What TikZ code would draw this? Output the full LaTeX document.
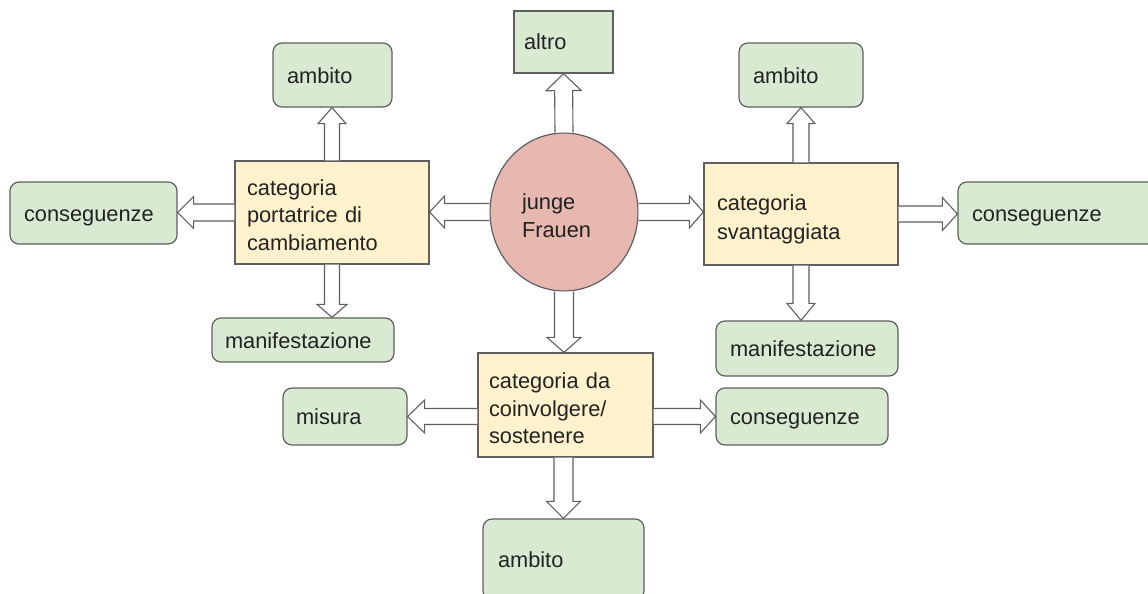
\documentclass[tikz,border=0pt]{standalone}
\usepackage{fontspec}
\setmainfont{Liberation Sans}
\usetikzlibrary{calc,shapes.geometric}

\definecolor{leaf}{HTML}{D9EAD3}
\definecolor{sand}{HTML}{FFF2CC}
\definecolor{rose}{HTML}{E6B8AF}
\definecolor{edge}{HTML}{5F5F5F}
\definecolor{ink}{HTML}{222222}

% fixed line box so every label sits at the same spot in its frame
\newcommand\linestrut{\rule[-6pt]{0pt}{28pt}}

% hollow block arrow: shaft half width, head half width, head length, start, tip
\newcommand\arrowshape[5]{%
  \path (#4) coordinate (ba-s) (#5) coordinate (ba-e);
  \path ($(ba-e)!#3!(ba-s)$) coordinate (ba-h);
  \filldraw[blockedge]
    ($(ba-s)!#1!90:(ba-e)$) -- ($(ba-h)!#1!-90:(ba-s)$) --
    ($(ba-h)!#2!-90:(ba-s)$) -- (ba-e) --
    ($(ba-h)!#2!90:(ba-s)$) -- ($(ba-h)!#1!90:(ba-s)$) --
    ($(ba-s)!#1!-90:(ba-e)$);
}

\tikzset{
  label text/.style={text=ink, align=left, inner ysep=0pt,
    font=\fontsize{21.8}{27.5}\selectfont,
    execute at begin node={\linestrut}, execute at end node={\linestrut}},
  deepfirst/.style={execute at begin node={\rule{0pt}{#1}}},
  leafbox/.style={label text, draw=edge, line width=1.2pt, fill=leaf, rounded corners=9pt},
  plainleaf/.style={label text, draw=edge, line width=1.2pt, fill=leaf},
  sandbox/.style={label text, draw=edge, line width=1.2pt, fill=sand},
  rosecircle/.style={label text, ellipse, draw=edge, line width=1.2pt, fill=rose,
    inner sep=0pt, font=\fontsize{21.8}{28}\selectfont},
  blockedge/.style={draw=edge, fill=white, line width=1.1pt, line join=miter},
}

\begin{document}
\begin{tikzpicture}[x=1pt,y=-1pt]
\useasboundingbox (0,0) rectangle (1148,594);

% centre
\node[rosecircle, deepfirst=28pt, minimum width=148pt, minimum height=158pt, text width=84pt] (jf) at (564,212) {junge\\Frauen};
\node[plainleaf, text width=79pt, inner xsep=10pt, minimum height=62pt] (altro) at (563.5,42) {altro};

% left branch
\node[sandbox, deepfirst=26pt, text width=170pt, inner xsep=12pt, minimum height=103pt] (port) at (332,212.5) {categoria\\portatrice di\\cambiamento};
\node[leafbox, text width=91pt, inner xsep=14pt, minimum height=64pt] (ambL) at (332.5,75) {ambito};
\node[leafbox, text width=139pt, inner xsep=14pt, minimum height=62pt] (conL) at (93.5,213) {conseguenze};
\node[leafbox, text width=156pt, inner xsep=13pt, minimum height=44pt] (manL) at (303,340) {manifestazione};

% right branch
\node[sandbox, deepfirst=28pt, text width=168pt, inner xsep=13pt, minimum height=102pt] (svan) at (801,214) {categoria\\svantaggiata};
\node[leafbox, text width=96pt, inner xsep=14pt, minimum height=64pt] (ambR) at (801,75) {ambito};
\node[leafbox, text width=174pt, inner xsep=14pt, minimum height=62pt] (conR) at (1059,213) {conseguenze};
\node[leafbox, text width=154pt, inner xsep=14pt, minimum height=55pt] (manR) at (807,348.5) {manifestazione};

% lower branch
\node[sandbox, deepfirst=28pt, text width=153pt, inner xsep=11pt, minimum height=104pt] (coin) at (565.5,405) {categoria da\\coinvolgere/\\sostenere};
\node[leafbox, text width=98pt, inner xsep=13pt, minimum height=57pt] (misura) at (345,416.5) {misura};
\node[leafbox, text width=144pt, inner xsep=14pt, minimum height=57pt] (conB) at (802,416.5) {conseguenze};
\node[leafbox, text width=131pt, inner xsep=15pt, minimum height=81pt] (ambB) at (563.5,559.5) {ambito};

% connectors
\arrowshape{7.5pt}{14pt}{16pt}{port.north}{port.north |- ambL.south}
\arrowshape{9pt}{17.5pt}{17pt}{jf.north}{altro.south}
\arrowshape{8pt}{14pt}{16pt}{svan.north}{svan.north |- ambR.south}
\arrowshape{8.5pt}{16pt}{16pt}{port.west}{port.west -| conL.east}
\arrowshape{8.5pt}{16pt}{15pt}{jf.west}{jf.west -| port.east}
\arrowshape{8.5pt}{16pt}{14pt}{jf.east}{jf.east -| svan.west}
\arrowshape{8pt}{16.5pt}{15pt}{svan.east}{svan.east -| conR.west}
\arrowshape{7.5pt}{15pt}{13pt}{port.south}{port.south |- manL.north}
\arrowshape{8pt}{14pt}{17pt}{svan.south}{svan.south |- manR.north}
\arrowshape{9.5pt}{17pt}{15pt}{jf.south}{jf.south |- coin.north}
\arrowshape{8pt}{16.5pt}{17pt}{coin.west |- misura.east}{misura.east}
\arrowshape{8pt}{16.5pt}{15pt}{coin.east |- conB.west}{conB.west}
\arrowshape{9.5pt}{17pt}{17pt}{ambB.north |- coin.south}{ambB.north}
\end{tikzpicture}
\end{document}
